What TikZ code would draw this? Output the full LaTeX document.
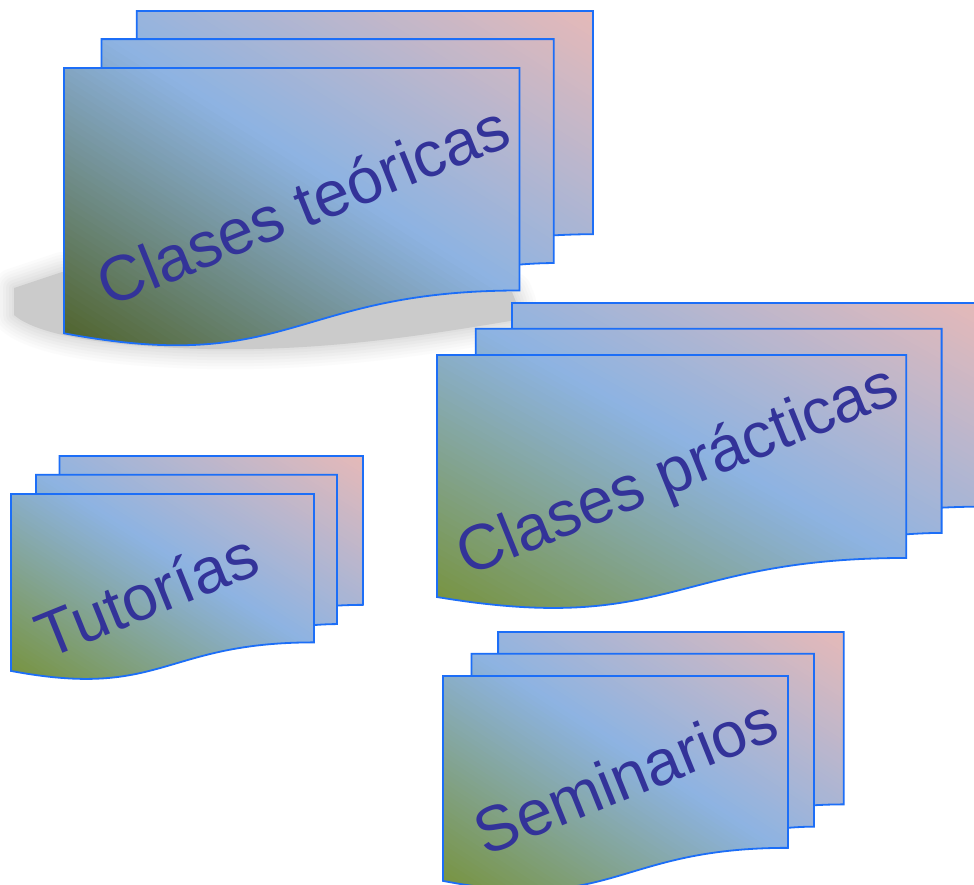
\documentclass[tikz,border=0pt]{standalone}
\usepackage{fontspec}
\setmainfont{Liberation Sans}
\definecolor{gBlue}{HTML}{8DB3E2}
\definecolor{gPink}{HTML}{E6B9B8}
\definecolor{gOliveD}{HTML}{4F6228}
\definecolor{gOlive}{HTML}{77933C}
\definecolor{edgeBlue}{HTML}{1C6EF7}
\definecolor{txtBlue}{HTML}{333399}
\definecolor{shadowGray}{HTML}{CBCBCB}
\tikzset{
  docedge/.style={draw=edgeBlue, line width=1.8pt, line join=miter},
  lbl/.style={text=txtBlue, font=\fontsize{64}{64}\selectfont, inner sep=0pt, anchor=base}
}
% #1 x0, #2 y0, #3 width, #4 height (px), #5 start colour
\newcommand\multidoc[5]{%
  \begin{scope}[shift={(#1,#2)}, x=#3pt/1000, y=-#4pt/1000]
    \colorlet{gStart}{#5}
    \begin{scope}
      \clip (0,962.13) .. controls (430.46,1089.91) and (430.46,834.35) .. (860.88,834.35)
        -- (860.88,757.04) .. controls (860.88,757.04) and (893.43,752.41) .. (925.93,752.41)
        -- (925.93,669.77) .. controls (925.93,669.77) and (962.96,666.30) .. (1000,666.30)
        -- (1000,0) -- (137.59,0) -- (137.59,84.03) -- (70.93,84.03) -- (70.93,170.14)
        -- (0,170.14) -- cycle;
      \fill[gStart] (-10,-10) rectangle (1010,1100);
      \foreach \si in {0,...,99} {
        \pgfmathsetmacro\stripA{-1000+20*\si}
        \pgfmathsetmacro\stripB{\stripA+60}
        \pgfmathsetmacro\stripT{(\si+0.5)/100}
        \ifdim\stripT pt<0.5pt
          \pgfmathsetmacro\stripP{200*\stripT}
          \colorlet{sc}{gBlue!\stripP!gStart}
        \else
          \pgfmathsetmacro\stripP{200*\stripT-100}
          \colorlet{sc}{gPink!\stripP!gBlue}
        \fi
        \fill[sc] (\stripA-100,-100) -- (\stripA+1100,1100) -- (\stripB+1100,1100) -- (\stripB-100,-100) -- cycle;
      }
    \end{scope}
    \draw[docedge] (137.59,84.03) -- (137.59,0) -- (1000,0) -- (1000,666.30)
      .. controls (962.96,666.30) and (925.93,669.77) .. (925.93,669.77);
    \draw[docedge] (70.93,170.14) -- (70.93,84.03) -- (925.93,84.03) -- (925.93,752.41)
      .. controls (893.43,752.41) and (860.88,757.04) .. (860.88,757.04);
    \draw[docedge] (0,170.14) -- (860.88,170.14) -- (860.88,834.35)
      .. controls (430.46,834.35) and (430.46,1089.91) .. (0,962.13) -- cycle;
  \end{scope}}
\begin{document}
\begin{tikzpicture}[x=1pt, y=-1pt]
  \useasboundingbox (0,0) rectangle (974,885);
  \fill[white] (0,0) rectangle (974,885);
  % soft shadow of the first stack
  \foreach \sw/\so in {40/0.06, 34/0.07, 28/0.08, 22/0.10, 16/0.12, 10/0.15, 4/0.2} {
    \draw[shadowGray, line width=\sw pt, opacity=\so, line join=round]
      (14,288) -- (62,272) -- (512,292) -- (516,302) -- (516,320)
      .. controls (420,336) and (300,356) .. (160,347)
      .. controls (90,343) and (35,333) .. (14,315) -- cycle;
  }
  \fill[shadowGray] (14,288) -- (62,272) -- (512,292) -- (516,302) -- (516,320)
      .. controls (420,336) and (300,356) .. (160,347)
      .. controls (90,343) and (35,333) .. (14,315) -- cycle;
  % stacks
  \multidoc{64}{11}{529}{335}{gOliveD}
  \multidoc{437}{303}{545}{305.6}{gOlive}
  \multidoc{11}{456}{352}{223.4}{gOlive}
  \multidoc{443}{632}{400.7}{258.7}{gOlive}
  % labels
  \node[lbl, rotate=22] (teo) at (311,226) {Clases teóricas};
  \node[lbl, rotate=22] (pra) at (685,489) {Clases prácticas};
  \node[lbl, rotate=22] (tut) at (155,616) {Tutorías};
  \node[lbl, rotate=22] (sem) at (634,797) {Seminarios};
\end{tikzpicture}
\end{document}
